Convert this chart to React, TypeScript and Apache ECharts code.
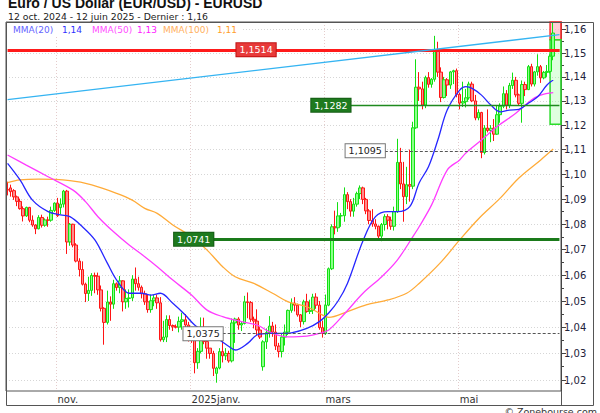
import React, { useEffect, useRef } from 'react';
import * as echarts from 'echarts';

const FONT = '"DejaVu Sans", Verdana, sans-serif';

// ---- data -----------------------------------------------------------------
const firstDay = '2024-10-10';
const lastDay = '2025-06-12';
const padSlots = 2;

const monthLabels: Record<string, string> = {
  '2024-11-01': 'nov.',
  '2025-01-01': '2025janv.',
  '2025-03-03': 'mars',
  '2025-05-01': 'mai',
};

// [open, close, low, high]
const ohlc: number[][] = [
  [1.0939, 1.0936, 1.0915, 1.0970], [1.0945, 1.0930, 1.0910, 1.0958], [1.0934, 1.0909, 1.0897, 1.0940],
  [1.0909, 1.0891, 1.0872, 1.0914], [1.0891, 1.0862, 1.0858, 1.0902], [1.0862, 1.0833, 1.0811, 1.0871],
  [1.0833, 1.0867, 1.0829, 1.0870], [1.0867, 1.0816, 1.0808, 1.0869], [1.0816, 1.0797, 1.0790, 1.0835],
  [1.0797, 1.0782, 1.0761, 1.0800], [1.0782, 1.0827, 1.0780, 1.0836], [1.0827, 1.0796, 1.0787, 1.0838],
  [1.0796, 1.0817, 1.0790, 1.0823], [1.0817, 1.0816, 1.0790, 1.0830], [1.0816, 1.0855, 1.0810, 1.0870],
  [1.0855, 1.0884, 1.0849, 1.0887], [1.0884, 1.0834, 1.0829, 1.0905], [1.0866, 1.0880, 1.0840, 1.0903],
  [1.0880, 1.0932, 1.0867, 1.0937], [1.0932, 1.0730, 1.0683, 1.0937], [1.0730, 1.0800, 1.0715, 1.0805],
  [1.0800, 1.0718, 1.0709, 1.0802], [1.0718, 1.0655, 1.0650, 1.0725], [1.0655, 1.0622, 1.0595, 1.0666],
  [1.0622, 1.0565, 1.0560, 1.0654], [1.0565, 1.0529, 1.0496, 1.0571], [1.0529, 1.0541, 1.0500, 1.0594],
  [1.0541, 1.0599, 1.0520, 1.0608], [1.0599, 1.0596, 1.0530, 1.0610], [1.0596, 1.0543, 1.0524, 1.0610],
  [1.0543, 1.0472, 1.0460, 1.0560], [1.0472, 1.0418, 1.0333, 1.0476], [1.0418, 1.0496, 1.0410, 1.0540],
  [1.0496, 1.0488, 1.0424, 1.0518], [1.0488, 1.0567, 1.0470, 1.0582], [1.0567, 1.0552, 1.0540, 1.0572],
  [1.0552, 1.0578, 1.0530, 1.0597], [1.0578, 1.0497, 1.0460, 1.0580], [1.0497, 1.0510, 1.0470, 1.0545],
  [1.0510, 1.0512, 1.0475, 1.0545], [1.0512, 1.0585, 1.0500, 1.0600], [1.0585, 1.0567, 1.0540, 1.0630],
  [1.0567, 1.0553, 1.0540, 1.0594], [1.0553, 1.0528, 1.0510, 1.0560], [1.0528, 1.0497, 1.0485, 1.0540],
  [1.0497, 1.0467, 1.0455, 1.0525], [1.0467, 1.0501, 1.0455, 1.0525], [1.0501, 1.0512, 1.0480, 1.0524],
  [1.0512, 1.0493, 1.0470, 1.0525], [1.0493, 1.0352, 1.0345, 1.0515], [1.0352, 1.0362, 1.0343, 1.0424],
  [1.0362, 1.0429, 1.0343, 1.0445], [1.0429, 1.0406, 1.0390, 1.0445], [1.0406, 1.0401, 1.0385, 1.0410],
  [1.0401, 1.0400, 1.0395, 1.0410], [1.0400, 1.0422, 1.0380, 1.0440], [1.0422, 1.0428, 1.0390, 1.0455],
  [1.0428, 1.0408, 1.0385, 1.0450], [1.0408, 1.0354, 1.0345, 1.0420], [1.0354, 1.0350, 1.0340, 1.0365],
  [1.0350, 1.0265, 1.0225, 1.0370], [1.0265, 1.0308, 1.0242, 1.0320], [1.0308, 1.0390, 1.0300, 1.0437],
  [1.0390, 1.0345, 1.0335, 1.0436], [1.0345, 1.0320, 1.0280, 1.0345], [1.0320, 1.0300, 1.0280, 1.0320],
  [1.0300, 1.0244, 1.0215, 1.0310], [1.0225, 1.0245, 1.0190, 1.0250], [1.0245, 1.0307, 1.0240, 1.0320],
  [1.0307, 1.0291, 1.0266, 1.0350], [1.0291, 1.0300, 1.0275, 1.0320], [1.0300, 1.0272, 1.0265, 1.0310],
  [1.0272, 1.0416, 1.0266, 1.0433], [1.0416, 1.0431, 1.0340, 1.0436], [1.0431, 1.0408, 1.0390, 1.0438],
  [1.0408, 1.0414, 1.0385, 1.0422], [1.0414, 1.0497, 1.0410, 1.0520], [1.0497, 1.0494, 1.0434, 1.0533],
  [1.0494, 1.0430, 1.0420, 1.0500], [1.0430, 1.0423, 1.0395, 1.0440], [1.0423, 1.0389, 1.0370, 1.0468],
  [1.0389, 1.0362, 1.0355, 1.0400], [1.0250, 1.0344, 1.0235, 1.0350], [1.0344, 1.0379, 1.0317, 1.0395],
  [1.0379, 1.0404, 1.0360, 1.0442], [1.0404, 1.0381, 1.0363, 1.0420], [1.0381, 1.0328, 1.0313, 1.0410],
  [1.0328, 1.0307, 1.0285, 1.0340], [1.0307, 1.0362, 1.0285, 1.0377], [1.0362, 1.0381, 1.0330, 1.0410],
  [1.0381, 1.0464, 1.0370, 1.0467], [1.0464, 1.0492, 1.0455, 1.0510], [1.0492, 1.0484, 1.0460, 1.0515],
  [1.0484, 1.0447, 1.0440, 1.0490], [1.0447, 1.0421, 1.0400, 1.0450], [1.0421, 1.0497, 1.0410, 1.0505],
  [1.0497, 1.0460, 1.0455, 1.0528], [1.0460, 1.0464, 1.0450, 1.0505], [1.0464, 1.0515, 1.0450, 1.0528],
  [1.0515, 1.0484, 1.0470, 1.0530], [1.0484, 1.0398, 1.0390, 1.0500], [1.0398, 1.0376, 1.0360, 1.0425],
  [1.0376, 1.0484, 1.0370, 1.0525], [1.0484, 1.0625, 1.0480, 1.0630], [1.0625, 1.0790, 1.0620, 1.0800],
  [1.0790, 1.0786, 1.0760, 1.0854], [1.0786, 1.0833, 1.0770, 1.0888], [1.0833, 1.0834, 1.0790, 1.0845],
  [1.0834, 1.0918, 1.0810, 1.0947], [1.0918, 1.0890, 1.0860, 1.0928], [1.0890, 1.0852, 1.0830, 1.0900],
  [1.0852, 1.0880, 1.0830, 1.0905], [1.0880, 1.0922, 1.0870, 1.0930], [1.0922, 1.0945, 1.0900, 1.0955],
  [1.0945, 1.0899, 1.0880, 1.0950], [1.0899, 1.0853, 1.0840, 1.0905], [1.0853, 1.0815, 1.0800, 1.0860],
  [1.0815, 1.0801, 1.0790, 1.0860], [1.0801, 1.0792, 1.0780, 1.0820], [1.0792, 1.0753, 1.0745, 1.0795],
  [1.0753, 1.0799, 1.0733, 1.0805], [1.0799, 1.0830, 1.0775, 1.0840], [1.0830, 1.0816, 1.0780, 1.0840],
  [1.0816, 1.0792, 1.0778, 1.0830], [1.0792, 1.0850, 1.0775, 1.0870], [1.0850, 1.1048, 1.0845, 1.1144],
  [1.1048, 1.0961, 1.0940, 1.1107], [1.0961, 1.0910, 1.0810, 1.1050], [1.0910, 1.0958, 1.0880, 1.1030],
  [1.0958, 1.0952, 1.0890, 1.1100], [1.0952, 1.1189, 1.0940, 1.1214], [1.1189, 1.1357, 1.1185, 1.1474],
  [1.1357, 1.1350, 1.1300, 1.1420], [1.1350, 1.1283, 1.1265, 1.1380], [1.1283, 1.1397, 1.1270, 1.1405],
  [1.1397, 1.1369, 1.1355, 1.1420], [1.1369, 1.1390, 1.1355, 1.1395], [1.1390, 1.1513, 1.1380, 1.1573],
  [1.1513, 1.1420, 1.1400, 1.1548], [1.1420, 1.1314, 1.1295, 1.1440], [1.1314, 1.1388, 1.1310, 1.1400],
  [1.1388, 1.1366, 1.1320, 1.1395], [1.1366, 1.1421, 1.1350, 1.1425], [1.1421, 1.1426, 1.1370, 1.1430],
  [1.1426, 1.1327, 1.1315, 1.1435], [1.1327, 1.1291, 1.1265, 1.1335], [1.1291, 1.1297, 1.1275, 1.1380],
  [1.1297, 1.1313, 1.1273, 1.1350], [1.1313, 1.1370, 1.1305, 1.1380], [1.1370, 1.1300, 1.1295, 1.1380],
  [1.1300, 1.1230, 1.1220, 1.1325], [1.1230, 1.1252, 1.1220, 1.1265], [1.1252, 1.1088, 1.1065, 1.1255],
  [1.1088, 1.1188, 1.1080, 1.1200], [1.1188, 1.1178, 1.1170, 1.1265], [1.1178, 1.1187, 1.1130, 1.1200],
  [1.1187, 1.1163, 1.1135, 1.1225], [1.1163, 1.1243, 1.1160, 1.1280], [1.1243, 1.1278, 1.1210, 1.1290],
  [1.1278, 1.1330, 1.1270, 1.1360], [1.1330, 1.1282, 1.1265, 1.1345], [1.1282, 1.1364, 1.1270, 1.1375],
  [1.1364, 1.1386, 1.1350, 1.1418], [1.1386, 1.1325, 1.1315, 1.1400], [1.1325, 1.1290, 1.1280, 1.1330],
  [1.1290, 1.1368, 1.1210, 1.1385], [1.1368, 1.1347, 1.1320, 1.1380], [1.1347, 1.1443, 1.1345, 1.1450],
  [1.1443, 1.1370, 1.1360, 1.1455], [1.1370, 1.1421, 1.1360, 1.1425], [1.1421, 1.1443, 1.1405, 1.1495],
  [1.1443, 1.1396, 1.1375, 1.1450], [1.1396, 1.1419, 1.1390, 1.1425], [1.1419, 1.1423, 1.1400, 1.1450],
  [1.1423, 1.1487, 1.1415, 1.1495], [1.1487, 1.1585, 1.1470, 1.1631],
];

// moving averages: [day index, value]
const ma20: [number, number][] = [
  [0, 1.1044], [4, 1.0977], [8, 1.0896], [13, 1.0850], [17, 1.0837], [20, 1.0830], [24, 1.0790],
  [28, 1.0738], [32, 1.0647], [35, 1.0581], [39, 1.0530], [43, 1.0530], [46, 1.0523], [49, 1.0530],
  [53, 1.0491], [57, 1.0446], [60, 1.0408], [64, 1.0376], [68, 1.0351], [71, 1.0326], [73, 1.0313],
  [77, 1.0338], [80, 1.0370], [84, 1.0376], [88, 1.0376], [91, 1.0378], [96, 1.0395], [100, 1.0421],
  [103, 1.0454], [106, 1.0500], [109, 1.0568], [114, 1.0735], [118, 1.0830], [122, 1.0850],
  [125, 1.0850], [129, 1.0870], [132, 1.0965], [135, 1.1030], [138, 1.1139], [141, 1.1262],
  [145, 1.1345], [147, 1.1359], [149, 1.1352], [152, 1.1324], [155, 1.1283], [158, 1.1255],
  [161, 1.1262], [164, 1.1265], [167, 1.1290], [170, 1.1317], [173, 1.1366], [175, 1.1387],
];
const ma50: [number, number][] = [
  [0, 1.1078], [6, 1.1037], [13, 1.0990], [21, 1.0936], [25, 1.0890], [29, 1.0830], [34, 1.0770],
  [39, 1.0718], [44, 1.0672], [48, 1.0633], [53, 1.0581], [59, 1.0523], [64, 1.0465], [69, 1.0440],
  [75, 1.0421], [80, 1.0408], [85, 1.0376], [90, 1.0363], [96, 1.0366], [100, 1.0376], [103, 1.0389],
  [108, 1.0450], [114, 1.0530], [120, 1.0594], [125, 1.0659], [130, 1.0751], [132, 1.0790],
  [136, 1.0877], [141, 1.1017], [145, 1.1058], [147, 1.1086], [152, 1.1139], [157, 1.1194],
  [163, 1.1249], [168, 1.1304], [171, 1.1324], [175, 1.1334],
];
const ma100: [number, number][] = [
  [0, 1.0966], [4, 1.0977], [10, 1.0980], [20, 1.0974], [27, 1.0957], [35, 1.0923], [40, 1.0896],
  [44, 1.0863], [48, 1.0843], [53, 1.0797], [59, 1.0751], [64, 1.0698], [69, 1.0633], [73, 1.0594],
  [79, 1.0568], [85, 1.0530], [90, 1.0497], [96, 1.0478], [100, 1.0453], [103, 1.0437], [109, 1.0459],
  [115, 1.0485], [122, 1.0504], [128, 1.0530], [132, 1.0568], [139, 1.0651], [145, 1.0738],
  [151, 1.0821], [158, 1.0904], [164, 1.0985], [171, 1.1058], [175, 1.1102],
];

const yMajor = [1.02, 1.03, 1.04, 1.05, 1.06, 1.07, 1.08, 1.09, 1.10, 1.11, 1.12, 1.13, 1.14, 1.15, 1.16];
const yMinor = [1.025, 1.035, 1.045, 1.055, 1.065, 1.075, 1.085, 1.095, 1.105, 1.115, 1.125, 1.135, 1.145, 1.155];
const yMin = 1.0159;
const yMax = 1.1632;

const levelRed = 1.1514;
const levelGreenHigh = 1.1282;
const levelDashHigh = 1.1095;
const levelGreenLow = 1.0741;
const levelDashLow = 1.0375;
const trendFrom = 1.1305;
const trendTo = 1.1578;
const zoneSplit = 1.1556;
const zoneLow = 1.1204;
const lastPrice = 1.16;

// ---- helpers ----------------------------------------------------------------
function tradingDays(from: string, to: string): string[] {
  const out: string[] = [];
  const d = new Date(from + 'T00:00:00Z');
  const end = new Date(to + 'T00:00:00Z').getTime();
  while (d.getTime() <= end) {
    const wd = d.getUTCDay();
    if (wd !== 0 && wd !== 6) out.push(d.toISOString().slice(0, 10));
    d.setUTCDate(d.getUTCDate() + 1);
  }
  return out;
}
const comma = (v: number, dec: number) => v.toFixed(dec).replace('.', ',');

function buildOption(): any {
  const dates = tradingDays(firstDay, lastDay);
  const categories = [...dates, ...Array.from({ length: padSlots }, (_, i) => `pad${i}`)];
  const lastIdx = categories.length - 1;
  const isMonthStart = (_i: number, v: string) => v in monthLabels;

  const boxLabel = (text: string, bg: string, fg: string, border: string) => ({
    show: true,
    position: 'start',
    distance: 0,
    formatter: text,
    color: fg,
    backgroundColor: bg,
    borderColor: border,
    borderWidth: 1,
    padding: [2, 3, 1, 3],
    fontSize: 9.5,
    fontFamily: FONT,
  });
  const solid = (color: string, width: number) => ({ color, width, type: 'solid', opacity: 1 });
  const dashed = { color: '#555', width: 1, type: [3, 2], opacity: 1 };

  const markLines = [
    [{ coord: [0, levelRed], lineStyle: solid('#ff1a1a', 3) }, { coord: [lastIdx, levelRed] }],
    [
      { coord: [86, levelRed], lineStyle: solid('#ff1a1a', 3), label: boxLabel(comma(levelRed, 4), '#e83a3a', '#fff', '#c01010') },
      { coord: [lastIdx, levelRed] },
    ],
    [
      { coord: [110, levelGreenHigh], lineStyle: solid('#1f8a1f', 1.3), label: boxLabel(comma(levelGreenHigh, 4), '#1e7a1e', '#fff', '#145c14') },
      { coord: [lastIdx, levelGreenHigh] },
    ],
    [
      { coord: [121, levelDashHigh], lineStyle: dashed, label: boxLabel(comma(levelDashHigh, 4), '#fff', '#222', '#777') },
      { coord: [lastIdx, levelDashHigh] },
    ],
    [
      { coord: [66, levelGreenLow], lineStyle: solid('#1a7a1a', 3), label: boxLabel(comma(levelGreenLow, 4), '#1e7a1e', '#fff', '#145c14') },
      { coord: [lastIdx, levelGreenLow] },
    ],
    [
      { coord: [69, levelDashLow], lineStyle: dashed, label: boxLabel(comma(levelDashLow, 4), '#fff', '#222', '#777') },
      { coord: [lastIdx, levelDashLow] },
    ],
    [{ coord: [0, trendFrom], lineStyle: solid('#35b4f2', 1.3) }, { coord: [lastIdx, trendTo] }],
  ];

  const maSeries = (name: string, data: [number, number][], color: string) => ({
    type: 'line',
    name,
    data,
    showSymbol: false,
    symbol: 'none',
    smooth: 0.35,
    connectNulls: true,
    silent: true,
    z: 4,
    lineStyle: { color, width: 1.3 },
  });

  const last = (a: [number, number][]) => a[a.length - 1][1];
  const legendItems = [
    { text: 'MMA(20)', x: 13, color: '#6464ff' },
    { text: comma(last(ma20), 2), x: 62, color: '#3030ff' },
    { text: 'MMA(50)', x: 92, color: '#ff50ff' },
    { text: comma(last(ma50), 2), x: 137, color: '#ff1cff' },
    { text: 'MMA(100)', x: 163, color: '#ffb060' },
    { text: comma(last(ma100), 2), x: 217, color: '#ff9d2a' },
  ];

  return {
    animation: false,
    backgroundColor: '#fff',
    textStyle: { fontFamily: FONT },
    grid: { left: 6, right: 39, top: 22, bottom: 22, show: true, borderColor: '#555', borderWidth: 1, backgroundColor: '#fff' },
    xAxis: {
      type: 'category',
      data: categories,
      boundaryGap: true,
      axisLine: { show: false },
      axisTick: { show: false },
      axisLabel: {
        interval: isMonthStart,
        formatter: (v: string) => monthLabels[v] ?? '',
        align: 'left',
        margin: 3,
        fontSize: 10,
        color: '#333',
        fontFamily: FONT,
      },
      splitLine: { show: true, interval: isMonthStart, lineStyle: { color: '#e4cccc', type: [1, 2], width: 1 } },
    },
    yAxis: [
      {
        type: 'log',
        logBase: 10,
        position: 'right',
        min: yMin,
        max: yMax,
        axisLine: { show: true, lineStyle: { color: '#444' } },
        axisTick: { show: true, length: 5, customValues: yMajor, lineStyle: { color: '#444' } },
        axisLabel: {
          customValues: yMajor,
          formatter: (v: number) => comma(v, 2),
          margin: 3,
          fontSize: 10,
          color: '#22223a',
          fontFamily: FONT,
        },
        splitLine: { show: true, lineStyle: { color: '#d6d6d6', type: [1, 2], width: 1 } },
      },
      {
        type: 'log',
        logBase: 10,
        position: 'right',
        min: yMin,
        max: yMax,
        axisLine: { show: false },
        axisTick: { show: true, length: 3, customValues: yMinor, lineStyle: { color: '#444' } },
        axisLabel: { show: false },
        splitLine: { show: false },
      },
    ],
    series: [
      {
        type: 'candlestick',
        name: 'EURUSD',
        data: ohlc,
        barWidth: 3,
        z: 3,
        silent: true,
        itemStyle: {
          color: '#8cff8c',
          color0: '#ff8c8c',
          borderColor: '#12e012',
          borderColor0: '#ff1414',
          borderWidth: 1,
        },
        markArea: {
          silent: true,
          data: [
            [{ xAxis: 174, yAxis: zoneSplit, itemStyle: { color: 'rgba(255,170,185,0.6)', borderColor: '#ff2a2a', borderWidth: 1.5 } }, {}],
            [{ xAxis: 174, yAxis: zoneLow, itemStyle: { color: 'rgba(150,255,150,0.3)', borderColor: '#2bdc2b', borderWidth: 1.5 } }, { yAxis: zoneSplit }],
          ],
        },
        markLine: {
          silent: true,
          symbol: ['none', 'none'],
          label: { show: false },
          lineStyle: { type: 'solid' },
          emphasis: { disabled: true },
          data: markLines,
        },
      },
      maSeries('MMA(100)', ma100, '#ffab38'),
      maSeries('MMA(50)', ma50, '#ff3cff'),
      maSeries('MMA(20)', ma20, '#2626ff'),
    ],
    graphic: [
      { type: 'rect', z: 100, silent: true, shape: { x: 6.5, y: 22.5, width: 587, height: 383 }, style: { fill: 'none', stroke: '#555', lineWidth: 1 } },
      { type: 'line', z: 100, silent: true, shape: { x1: 561.5, y1: 391, x2: 561.5, y2: 405 }, style: { stroke: '#555', lineWidth: 1 } },
      { type: 'rect', z: 100, silent: true, shape: { x: 7, y: 23, width: 234, height: 13 }, style: { fill: '#fff' } },
      ...legendItems.map((it) => ({
        type: 'text', z: 101, silent: true, x: it.x, y: 29.7,
        style: { text: it.text, font: `9px ${FONT}`, fill: it.color, align: 'left', verticalAlign: 'middle' },
      })),
      {
        type: 'text', z: 101, silent: true, x: 8, y: 2.5,
        style: { text: 'Euro / US Dollar (EUR/USD) - EURUSD', font: 'bold 14px "Liberation Sans", Arial, sans-serif', fill: '#111', align: 'left', verticalAlign: 'middle' },
      },
      {
        type: 'text', z: 101, silent: true, x: 8, y: 16,
        style: { text: `12 oct. 2024 - 12 juin 2025 - Dernier : ${comma(lastPrice, 2)}`, font: `9.3px ${FONT}`, fill: '#222', align: 'left', verticalAlign: 'middle' },
      },
      {
        type: 'text', z: 101, silent: true, x: 597, y: 411,
        style: { text: '© Zonebourse.com', font: `9.5px ${FONT}`, fill: '#333', align: 'right', verticalAlign: 'middle' },
      },
    ],
  };
}

export default function App() {
  const ref = useRef<HTMLDivElement>(null);
  useEffect(() => {
    if (!ref.current) return;
    const chart = echarts.init(ref.current, null, { renderer: 'svg' });
    chart.setOption(buildOption());
    return () => chart.dispose();
  }, []);
  return <div ref={ref} style={{ position: 'fixed', left: 0, top: 0, width: 600, height: 413, background: '#fff' }} />;
}
